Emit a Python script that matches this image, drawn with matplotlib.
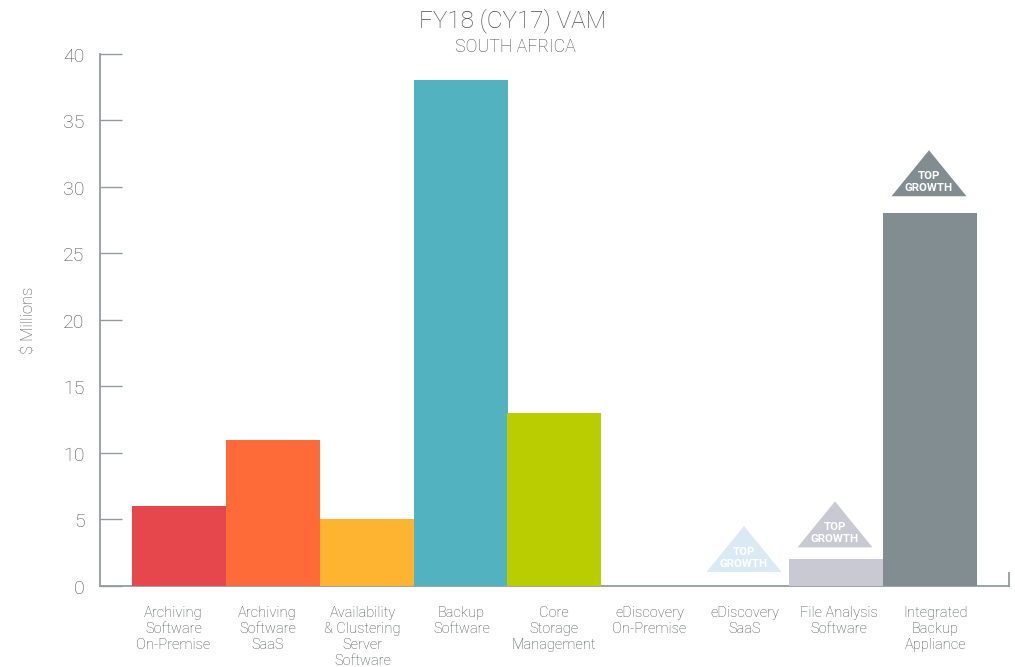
import matplotlib
matplotlib.use('Agg')
import matplotlib.pyplot as plt
from matplotlib.patches import Polygon
from matplotlib.transforms import Affine2D, ScaledTranslation

plt.rcParams['font.family'] = ['Roboto', 'DejaVu Sans']

categories = ['Archiving\nSoftware\nOn-Premise', 'Archiving\nSoftware\nSaaS',
              'Availability\n& Clustering\nServer\nSoftware', 'Backup\nSoftware',
              'Core\nStorage\nManagement', 'eDiscovery\nOn-Premise', 'eDiscovery\nSaaS',
              'File Analysis\nSoftware', 'Integrated\nBackup\nAppliance']
values = [6, 11, 5, 38, 13, 0, 0, 2, 28]
colors = ['#e5474d', '#ff6a39', '#ffb431', '#52b2bf', '#b9cd00', '#d9eaf4', '#d9eaf4', '#c8c9d3', '#828d91']
yticks = [0, 5, 10, 15, 20, 25, 30, 35, 40]

# triangles: category index, pixel gap above bar, pixel shift from bar centre
growth = [6, 7, 8]
growth_gap = [14, 12, 17]
growth_shift = [1.5, -1.5, -1.5]

# small sideways shift of each category label, in pixels
label_shift = [-5, -5, -4, 1, -1, 1, 2, 2, 5]

text_col = '#4a4e50'
axis_col = '#929ca1'
W, H = 1015, 667

fig = plt.figure(figsize=(W / 100, H / 100), dpi=100)
ax = fig.add_axes([100 / W, 1 - 586 / H, 909 / W, 532.5 / H])

ax.bar(range(len(values)), values, width=1.0, color=colors, zorder=3)
ax.set_xlim(-78.5 / 94, 830.5 / 94)
ax.set_ylim(0, 40)

ax.spines['top'].set_visible(False)
for s in ['left', 'bottom', 'right']:
    ax.spines[s].set_color(axis_col)
    ax.spines[s].set_linewidth(1.3)
ax.spines['right'].set_bounds(0, 1)

ax.set_yticks(yticks)
ax.tick_params(axis='y', direction='in', length=16, width=1.0, color=axis_col,
               labelcolor=text_col, labelsize=14, pad=11)
for lab in ax.get_yticklabels():
    lab.set_fontweight('light')
    lab.set_verticalalignment('center')
    lab.set_transform(lab.get_transform() + ScaledTranslation(0, -3 / 100, fig.dpi_scale_trans))
ax.set_xticks([])

for i, name in enumerate(categories):
    ax.annotate(name, xy=(i, 0), xycoords='data', xytext=(label_shift[i] * 0.72, -14.5),
                textcoords='offset points', ha='center', va='top', fontsize=10.5,
                fontweight='light', color=text_col, linespacing=1.17)

# top growth badges
fig.canvas.draw()
for i, gap, shift in zip(growth, growth_gap, growth_shift):
    base = ax.transData.transform((i, values[i]))
    tri = Polygon([[-37.5, 0], [37.5, 0], [0, 46]], closed=True, facecolor=colors[i], edgecolor='none',
                  transform=Affine2D().translate(base[0] + shift, base[1] + gap), clip_on=False, zorder=4)
    ax.add_patch(tri)
    ax.annotate('TOP\nGROWTH', xy=(i, values[i]), xycoords='data',
                xytext=(shift * 0.72, (gap + 3) * 0.72), textcoords='offset points',
                ha='center', va='bottom', fontsize=8.2, fontweight='bold', color='white',
                linespacing=1.25, zorder=5)

fig.text(512.5 / W, 1 - 21 / H, 'FY18 (CY17) VAM', ha='center', va='center', fontsize=17.5,
         fontweight='light', color=text_col)
fig.text(515 / W, 1 - 47 / H, 'SOUTH AFRICA', ha='center', va='center', fontsize=12.8,
         fontweight='light', color=text_col)
fig.text(29 / W, 1 - 320 / H, '$ Millions', rotation=90, ha='center', va='center', fontsize=12,
         fontweight='light', color=text_col)

fig.savefig('out.png', dpi=100)
